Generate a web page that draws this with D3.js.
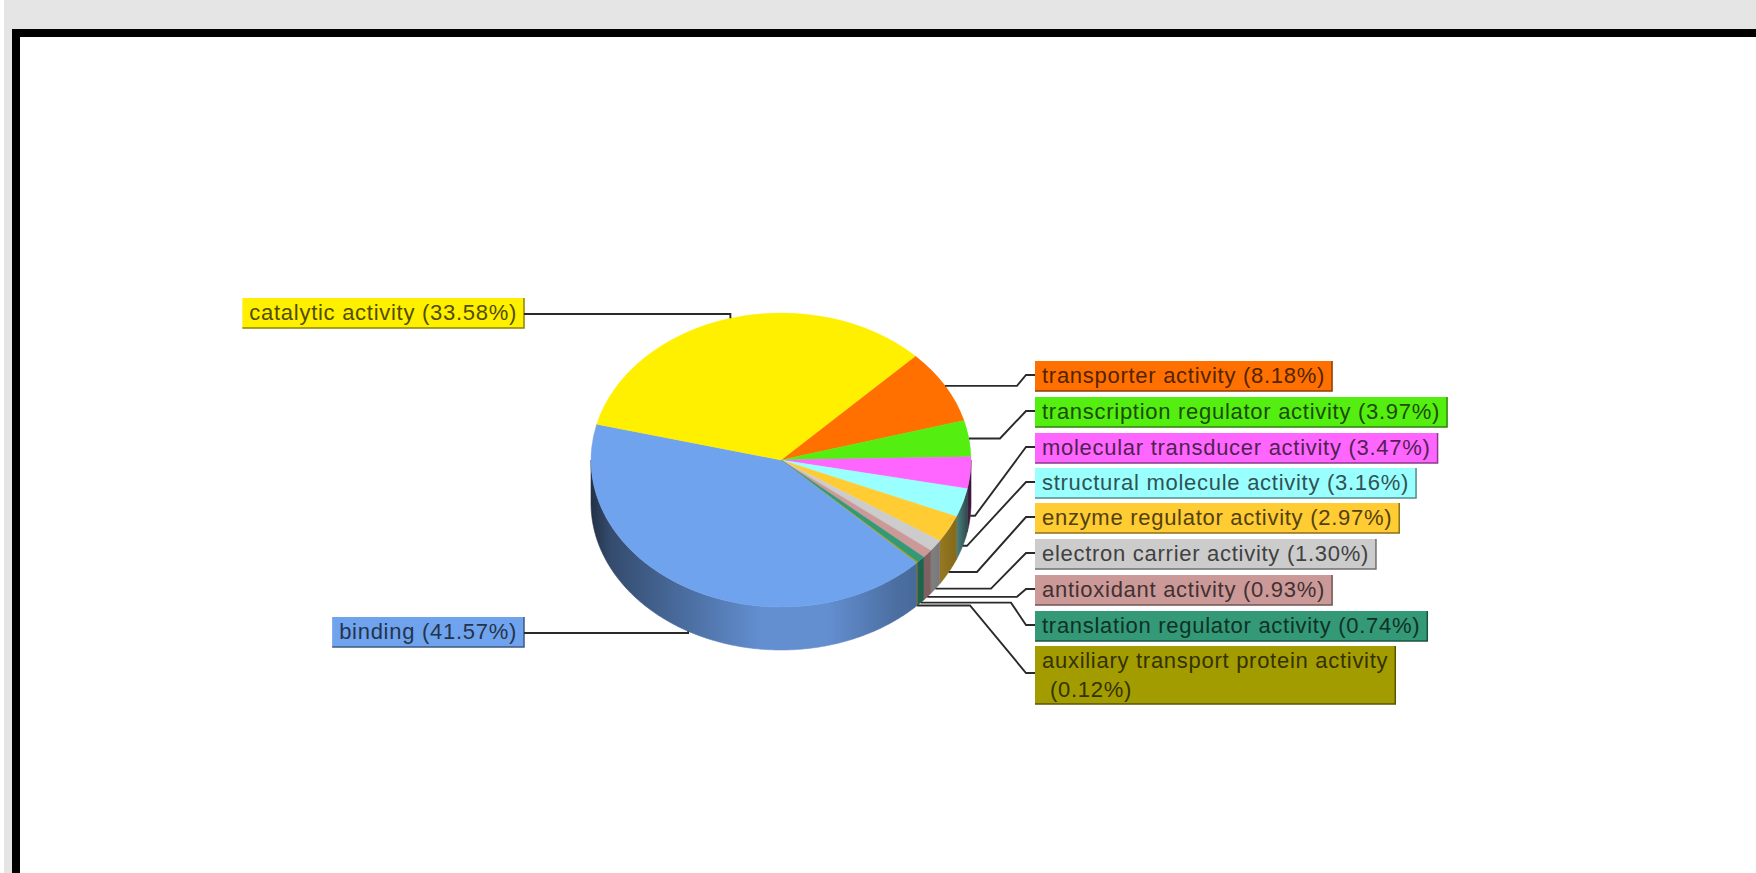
<!DOCTYPE html>
<html>
<head>
<meta charset="utf-8">
<title>Molecular function distribution</title>
<script src="https://cdn.jsdelivr.net/npm/d3@7"></script>
<style>
  html, body { margin: 0; padding: 0; background: #fff; overflow: hidden; }
  svg { display: block; }
  text { font-family: "Liberation Sans", Arial, sans-serif; font-size: 22px; letter-spacing: 0.72px; }
</style>
</head>
<body>
<svg id="chart" width="1756" height="873"></svg>
<script>
// Slices in clockwise drawing order, beginning at the orange wedge.
const categories = [
  "transporter activity", "transcription regulator activity", "molecular transducer activity",
  "structural molecule activity", "enzyme regulator activity", "electron carrier activity",
  "antioxidant activity", "translation regulator activity", "auxiliary transport protein activity",
  "binding", "catalytic activity"
];
const percents = [8.18, 3.97, 3.47, 3.16, 2.97, 1.30, 0.93, 0.74, 0.12, 41.57, 33.58];
const sliceColors = [
  "#ff7000", "#55ee11", "#ff66ff", "#99ffff", "#ffcc33", "#cccccc",
  "#cc9999", "#339977", "#a39c00", "#70a3ee", "#fff000"
];

// Callout layout: label column side, top edge and the x of each leader's elbow.
const labelSides = ["right", "right", "right", "right", "right", "right", "right", "right", "right", "left", "left"];
const labelTops = [361, 397, 433, 468, 503, 539, 575, 611, 646, 617, 298];
const labelElbows = [1017, 1000, 975, 967, 977, 991, 1017, 1011, 970, null, null];

// Brightness of the pie's rim from its left to its right edge.
const rimShade = [[0, 0.30], [0.05, 0.46], [0.2, 0.62], [0.45, 0.88], [0.62, 0.88], [0.8, 0.68], [0.9, 0.62], [0.96, 0.52], [1, 0.22]];

const svg = d3.select("#chart");

// Page frame
svg.append("rect").attr("x", 4).attr("y", 0).attr("width", 1752).attr("height", 29).attr("fill", "#e5e5e5");
svg.append("rect").attr("x", 4).attr("y", 0).attr("width", 8).attr("height", 873).attr("fill", "#e5e5e5");
svg.append("rect").attr("x", 12).attr("y", 29).attr("width", 1744).attr("height", 8).attr("fill", "#000");
svg.append("rect").attr("x", 12).attr("y", 29).attr("width", 8).attr("height", 844).attr("fill", "#000");

const cx = 781, cy = 460, rx = 190, ry = 147, depth = 43;
const squash = ry / rx;

const slices = d3.pie()
  .sort(null)
  .startAngle(Math.PI / 4)
  .endAngle(Math.PI / 4 + 2 * Math.PI)(percents);

const onRim = (a, dy = 0) => [cx + rx * Math.sin(a), cy - ry * Math.cos(a) + dy];

// Rim gradients: each slice colour dimmed across the pie's width.
const defs = svg.append("defs");
const gradients = defs.selectAll("linearGradient").data(sliceColors).join("linearGradient")
  .attr("id", (d, i) => "rim" + i)
  .attr("gradientUnits", "userSpaceOnUse")
  .attr("x1", cx - rx).attr("x2", cx + rx).attr("y1", 0).attr("y2", 0);
gradients.selectAll("stop").data(c => rimShade.map(s => ({ offset: s[0], k: s[1], c }))).join("stop")
  .attr("offset", d => d.offset)
  .attr("stop-color", d => {
    const col = d3.rgb(d.c);
    return d3.rgb(col.r * d.k, col.g * d.k, col.b * d.k).formatHex();
  });

// Rim walls: only the part of each slice facing the viewer.
const line = d3.line();
const walls = svg.append("g");
slices.forEach((s, i) => {
  const a0 = Math.max(s.startAngle, Math.PI / 2);
  const a1 = Math.min(s.endAngle, 3 * Math.PI / 2);
  if (a1 <= a0) return;
  const angles = d3.range(a0, a1, 0.01).concat([a1]);
  const top = angles.map(a => onRim(a));
  const bottom = angles.slice().reverse().map(a => onRim(a, depth));
  walls.append("path")
    .attr("d", line(top.concat(bottom)) + "Z")
    .attr("fill", `url(#rim${i})`)
    .attr("stroke", `url(#rim${i})`)
    .attr("stroke-width", 0.6);
});

// Top face
const arc = d3.arc().innerRadius(0).outerRadius(rx);
svg.append("g")
  .attr("transform", `translate(${cx},${cy}) scale(1,${squash})`)
  .selectAll("path").data(slices).join("path")
  .attr("d", arc)
  .attr("fill", (d, i) => sliceColors[i])
  .attr("stroke", (d, i) => sliceColors[i])
  .attr("stroke-width", 0.5);

// Callout labels
const labels = svg.append("g");
const rightEdge = 524, leftEdge = 1035;

categories.forEach((name, i) => {
  const side = labelSides[i];
  const top = labelTops[i];
  const color = sliceColors[i];
  const wrapped = i === 8;
  const height = wrapped ? 58 : 30;
  const ink = d3.interpolateRgb(color, "#000")(0.68);
  const edge = d3.interpolateRgb(color, "#000")(0.45);
  const g = labels.append("g");
  const rect = g.append("rect").attr("y", top).attr("height", height).attr("fill", color);
  const border = g.append("path").attr("fill", "none").attr("stroke", edge).attr("stroke-width", 1.5);
  const pct = `(${percents[i].toFixed(2)}%)`;

  let width, x0;
  if (wrapped) {
    const t1 = g.append("text").attr("y", top + 22).attr("fill", ink).text(name);
    const t2 = g.append("text").attr("y", top + 51).attr("fill", ink).text(pct);
    width = t1.node().getComputedTextLength() + 14;
    x0 = leftEdge;
    t1.attr("x", x0 + 7);
    t2.attr("x", x0 + 15);
  } else {
    const t = g.append("text").attr("y", top + 22).attr("fill", ink).text(`${name} ${pct}`);
    width = t.node().getComputedTextLength() + 14;
    x0 = side === "right" ? leftEdge : rightEdge - width;
    t.attr("x", x0 + 7);
  }
  rect.attr("x", x0).attr("width", width);
  border.attr("d", line([[x0, top + height], [x0 + width, top + height], [x0 + width, top]]));

  // Leader from the slice's mid-angle on the pie to its label.
  const mid = (slices[i].startAngle + slices[i].endAngle) / 2;
  const front = Math.cos(mid) < -0.02;
  const [ax, ay] = onRim(mid, front ? depth : 0);
  const labelY = side === "left" ? top + 16 : top + height / 2 - (wrapped ? 2 : 1);
  const pts = side === "right"
    ? [[ax, ay], [labelElbows[i], ay], [leftEdge - 9, labelY], [leftEdge, labelY]]
    : [[ax, ay], [ax, labelY], [rightEdge, labelY]];
  svg.append("path")
    .attr("d", line(pts))
    .attr("fill", "none")
    .attr("stroke", "#2a2a2a")
    .attr("stroke-width", 1.9);
});
</script>
</body>
</html>
